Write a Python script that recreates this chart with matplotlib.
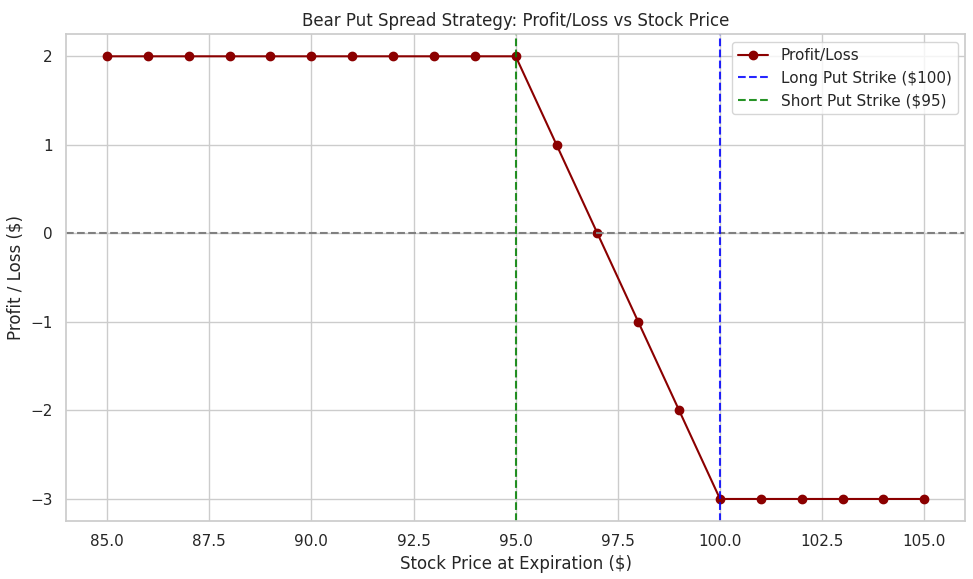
import numpy as np
import matplotlib.pyplot as plt
import seaborn as sns

# bear put spread payoff
stock_prices = [85, 86, 87, 88, 89, 90, 91, 92, 93, 94, 95,
                96, 97, 98, 99, 100, 101, 102, 103, 104, 105]
profit_loss = [2, 2, 2, 2, 2, 2, 2, 2, 2, 2, 2,
               1, 0, -1, -2, -3, -3, -3, -3, -3, -3]
long_strike = 100
short_strike = 95

sns.set_theme(style="whitegrid")

plt.figure(figsize=(9.73, 5.79), dpi=100)
plt.plot(stock_prices, profit_loss, marker='o', color='darkred', label='Profit/Loss')
plt.axhline(0, color='gray', linestyle='--')
plt.axvline(long_strike, color='blue', linestyle='--', alpha=0.85, label=f'Long Put Strike (${long_strike})')
plt.axvline(short_strike, color='green', linestyle='--', alpha=0.85, label=f'Short Put Strike (${short_strike})')

plt.title('Bear Put Spread Strategy: Profit/Loss vs Stock Price')
plt.xlabel('Stock Price at Expiration ($)')
plt.ylabel('Profit / Loss ($)')
plt.legend(loc='upper right')
plt.grid(True)
plt.subplots_adjust(left=0.068, right=0.992, top=0.941, bottom=0.1)
plt.savefig('out.png', dpi=100)
